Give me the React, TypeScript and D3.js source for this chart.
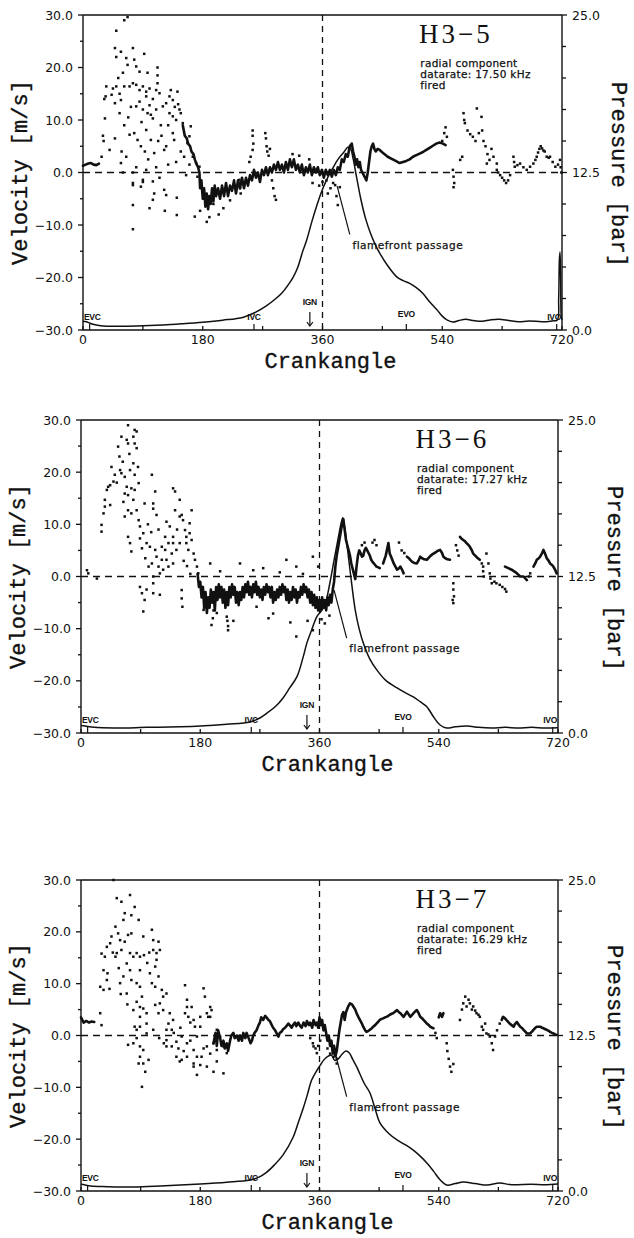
import React from 'react';
import * as d3 from 'd3';

type Pt = [number, number];

// ---- axes ----
const crankMajor = [0, 180, 360, 540, 720];
const crankMinor = [90, 270, 450, 630];
const velocityMajor = [-30, -20, -10, 0, 10, 20, 30];
const velocityMinor = [-25, -15, -5, 5, 15, 25];
const pressureMajor = [0, 12.5, 25];
const pressureMinor = [2.5, 5, 7.5, 10, 15, 17.5, 20, 22.5];

// ---- run info ----
const runLabels = ['H3−5', 'H3−6', 'H3−7'];
const dataRates = ['17.50', '17.27', '16.29'];

// valve timing and ignition [deg crank angle]
const valveEventNames = ['EVC', 'IVC', 'EVO', 'IVO'];
const valveEventCranks = [10, 257, 486, 712];
const ignitionCrank = 341;

// ================= H3-5 =================
const pressureH35: Pt[] = [
  [0, 0.7], [5, 0.65], [10, 0.55], [15, 0.45], [20, 0.4], [30, 0.32], [50, 0.3], [80, 0.32], [120, 0.4],
  [150, 0.5], [180, 0.62], [210, 0.78], [240, 1.0], [257, 1.35], [275, 1.9], [290, 2.5], [300, 3.0],
  [310, 3.7], [316, 4.2], [323, 5.0], [330, 6.2], [336, 7.1], [344, 8.6], [351, 9.8], [358, 10.9],
  [366, 11.9], [375, 12.8], [384, 13.6], [392, 14.1], [398, 14.5], [402, 14.4], [406, 13.6], [411, 12.2],
  [418, 10.3], [425, 8.8], [432, 7.7], [440, 6.7], [446, 6.1], [458, 5.1], [472, 4.2], [482, 3.9],
  [491, 3.7], [500, 3.4], [511, 2.9], [520, 2.3], [532, 1.6], [540, 1.1], [547, 0.8], [556, 0.63],
  [565, 0.75], [575, 0.85], [587, 0.75], [600, 0.7], [612, 0.8], [625, 0.85], [640, 0.75], [655, 0.65],
  [670, 0.72], [690, 0.65], [705, 0.72], [713, 0.8], [715, 2.5], [716, 5.5], [717, 6.2], [718, 4],
  [719, 1], [720, 0.8],
];

const traceH35: Pt[][] = [
  [[0, 1.3], [4, 1.5], [8, 1.7], [12, 1.8], [16, 1.5], [20, 1.4], [24, 1.7]],
  [
    [150, 9], [153, 7], [156, 6.5], [158, 5.5], [161, 5], [163, 4], [166, 3.5], [168, 2.5], [171, 1.5],
    [173, 1], [175, 0], [176, -3], [178, -1.5], [180, -5], [182, -3], [184, -6.5], [186, -4], [188, -7],
    [190, -4.5], [192, -6], [194, -3], [196, -5.5], [198, -2.5], [200, -4.5], [203, -3], [206, -5],
    [209, -2.5], [212, -4.5], [215, -2], [218, -4.5], [221, -2.5], [224, -3.5], [227, -1.5], [230, -4],
    [233, -1.5], [236, -3], [239, -1], [242, -3], [245, -1], [248, -2.5], [251, -0.5], [254, -1.5],
    [257, 0.5], [260, -1], [263, 0], [266, -1.8], [269, 0.5], [272, -0.5], [275, 1], [278, -0.5],
    [281, 1], [284, 0], [287, 1.5], [290, 0.5], [293, 2], [296, 0.5], [299, 1.5], [302, 0], [305, 2],
    [308, 0.5], [311, 2.5], [314, 1], [317, 2.5], [320, 0.5], [323, 1.5], [326, 0], [329, 1.5],
    [332, -0.5], [335, 1], [338, 0], [341, 1.5], [344, -0.5], [347, 1], [350, 0], [353, 1], [356, -0.5],
    [359, 0.5], [362, -1], [365, 0.5], [368, -0.5], [371, 0.5], [374, -0.8], [377, 0.5], [380, -0.5],
    [383, 1], [386, 0.5], [389, 2.5], [392, 2], [395, 3.5], [398, 3], [401, 5], [404, 5.5], [406, 4],
    [408, 3], [410, 1.5], [412, 2.5], [414, 1], [416, 2], [418, 0.5], [420, 0], [422, -0.5], [424, -1],
    [426, -1.5], [428, 0], [430, 2], [432, 4], [434, 5], [436, 5.5], [438, 4.5], [440, 4], [443, 4.5],
    [446, 4.3], [452, 3.6], [458, 3], [464, 2.6], [470, 2.2], [476, 1.8], [481, 2], [486, 2.2],
    [491, 2.5], [496, 3], [501, 3.3], [506, 3.6], [511, 3.9], [516, 4.3], [521, 4.7], [526, 5.1],
    [531, 5.5], [536, 5.7], [541, 5.5], [545, 5.2],
  ],
];

const dotsH35: Pt[] = [
  [28, 3], [30, 7], [31, 6], [33, 10.3], [32, 14], [34, 14.5], [35, 16.4], [40, 4.3], [48, 6.5],
  [50, 27], [62, 29], [67, 29.6], [48, 23.7], [50, 22], [57, 23], [65, 21.8], [67, 20.5], [75, 23.7],
  [77, 21.5], [92, 22.6], [80, 20.2], [85, 19.2], [97, 19], [112, 17], [112, 18.5], [112, 20],
  [50, 16.4], [55, 15], [43, 14.8], [48, 13.2], [57, 13.8], [62, 16.4], [70, 16.4], [75, 17],
  [80, 16.7], [85, 15.7], [90, 16.4], [95, 15.4], [100, 16], [110, 15.7], [115, 15.1], [95, 14.5],
  [85, 13.5], [80, 12.6], [90, 12], [97, 11.3], [102, 11], [105, 10.3], [110, 12], [120, 12.6],
  [125, 13.2], [130, 14.5], [135, 13.8], [132, 15.7], [142, 15.4], [145, 12], [130, 11.3], [135, 10.7],
  [140, 10], [147, 11.3], [150, 9.4], [117, 9], [55, 11.3], [62, 9], [70, 7.2], [77, 7.5], [82, 6.2],
  [87, 5], [95, 8.1], [102, 6.2], [107, 3.7], [122, 4.3], [125, 5], [135, 7.5], [137, 6.2], [147, 4],
  [152, 3], [157, 5.6], [160, 6.9], [162, 8.8], [165, 3], [170, 1.8], [175, 1.1], [172, -0.8],
  [57, 1.8], [60, 0], [75, 0], [75, -2], [90, -1.4], [87, -2.7], [105, -1.7], [107, -4], [122, -3.3],
  [125, -4.3], [75, -2.4], [75, -6.2], [75, -10.8], [90, -1.8], [105, -5.2], [100, -6.8], [123, -7.3],
  [141, -4.8], [141, -8.1], [168, -8.4], [186, -9.4], [138, 12.5], [143, 13], [128, 9], [118, 7],
  [113, 6], [98, 2.5], [93, 4], [68, 10.5], [72, 12.5], [60, 19], [53, 18], [45, 16], [105, 14],
  [100, 12.8], [88, 9.6], [58, 4], [65, 3], [80, 1], [95, 0.5], [110, 1], [115, -1], [128, 1.5],
  [140, 2], [155, -0.5], [160, 1.5],
  [176, -7.3], [196, -6], [211, -6.8], [221, -5.3], [190, -8.5], [204, -8], [255, 8], [255, 7],
  [256, 5.5], [255, 4.3], [250, 2], [252, 3], [274, 7.5], [275, 6.5], [276, 5], [277, 4], [279, 3.2],
  [281, 4.5], [284, -1.5], [286, -3], [288, -4.5], [290, -5.2], [235, -1.4], [236, -3], [237, -4],
  [315, 3.5], [325, 3.2], [340, 2.5], [345, -2], [355, -2.5], [366, -1.5], [376, -2], [386, -2.8],
  [368, -4], [381, -4.5], [379, -2.4], [383, -6.2], [372, -3], [360, -1.8],
  [540, 6], [543, 7.5], [545, 8.6], [547, 6.8], [556, 0.5], [557, -0.8], [558, -2], [557, -2.8],
  [567, 2.4], [570, 3], [572, 11.3], [573, 10], [574, 9.4], [578, 8], [582, 7.3], [586, 6.8], [590, 6],
  [592, 12.2], [595, 7.5], [599, 10.6], [600, 8], [602, 6], [605, 5], [608, 3.5], [611, 2.4],
  [614, 4.5], [617, 3], [607, 1.7], [622, 1.7], [622, 0.5], [624, 0], [627, -0.5], [630, -1],
  [633, -1.5], [636, -2], [639, -1.5], [642, -0.5], [647, 3], [648, 2], [649, 1.1], [653, 1.4],
  [657, 1.7], [662, 1], [667, 0.5], [672, 1.1], [677, 1.7], [680, 2.4], [682, 3], [684, 3.8],
  [686, 4.5], [688, 5], [690, 4.6], [692, 4.2], [694, 4], [697, 3], [700, 2.8], [702, 3], [706, 2],
  [710, 1.1], [714, 1.5], [717, 2.4], [718, 1], [719, 0],
];

// ================= H3-6 =================
const pressureH36: Pt[] = [
  [0, 0.6], [6, 0.56], [20, 0.45], [50, 0.4], [100, 0.45], [150, 0.5], [180, 0.56], [220, 0.7],
  [255, 0.88], [270, 1.2], [281, 1.6], [295, 2.2], [305, 2.8], [315, 3.6], [326, 4.5], [335, 6.0],
  [341, 7.2], [348, 8.2], [356, 9.3], [362, 9.7], [368, 10.2], [375, 11.8], [382, 13.8], [388, 15.5],
  [392, 16.6], [395, 17.2], [398, 16.4], [402, 14.8], [407, 12.6], [414, 9.8], [420, 8.3], [426, 7.2],
  [436, 5.9], [447, 5.0], [460, 4.2], [477, 3.6], [490, 3.2], [501, 2.9], [512, 2.5], [522, 2.1],
  [532, 1.3], [542, 0.64], [552, 0.4], [565, 0.5], [583, 0.56], [600, 0.45], [620, 0.4], [640, 0.45],
  [660, 0.4], [680, 0.45], [700, 0.4], [720, 0.42],
];

const traceH36: Pt[][] = [
  [
    [176, 0.5], [178, -2], [180, -1], [182, -4], [184, -2], [186, -6], [188, -3], [190, -7], [192, -4],
    [194, -6], [196, -2.5], [198, -5], [200, -3], [202, -6.5], [204, -2], [206, -4.5], [208, -1.5],
    [210, -4], [212, -2], [214, -5], [216, -2.5], [218, -6], [220, -3], [222, -5.5], [224, -2],
    [226, -4], [228, -1.5], [230, -3.5], [232, -2], [234, -5], [236, -3], [238, -5.5], [240, -3],
    [242, -4.5], [244, -2], [246, -4], [248, -1.5], [250, -3], [252, -1], [254, -3.5], [256, -2],
    [258, -4], [260, -1.5], [262, -3], [264, -1], [266, -3.5], [268, -2], [270, -4], [272, -2.5],
    [274, -4.5], [276, -2], [278, -3.5], [280, -1.5], [282, -3], [284, -2], [286, -4], [288, -2],
    [290, -5], [292, -3], [294, -4.5], [296, -2.5], [298, -4], [300, -2], [302, -3.5], [304, -1.5],
    [306, -3], [308, -2], [310, -4.5], [312, -2.5], [314, -5], [316, -3], [318, -4.5], [320, -2],
    [322, -4], [324, -2.5], [326, -5], [328, -3], [330, -4], [332, -2], [334, -3.5], [336, -1.5],
    [338, -3], [340, -2], [342, -4], [344, -2.5], [346, -5], [348, -3], [350, -5.5], [352, -3.5],
    [354, -6], [356, -4], [358, -6.5], [360, -4.5], [362, -6.5], [364, -4], [366, -6], [368, -4.5],
    [370, -6.5], [372, -4], [374, -5.5], [376, -3.5], [378, -5], [380, -2.5], [382, -1], [384, 2],
    [386, 4], [388, 5.5], [390, 7], [392, 8.5], [394, 10], [396, 11], [398, 9], [400, 7], [402, 6],
    [404, 5], [406, 4], [408, 2.5], [410, 1.5], [412, 0.5], [414, -0.5], [416, 2], [418, 4], [420, 5],
    [422, 4.5], [424, 3.8], [426, 4], [428, 5], [430, 5.5], [432, 5], [434, 4.5], [436, 4], [438, 3.2],
    [440, 2.8], [442, 2.5], [444, 2.2], [446, 1.9], [448, 1.8], [451, 1.6],
  ],
  [[456, 2.5], [460, 4], [464, 6.4], [466, 4.4], [469, 3.5], [472, 2.5], [475, 1.8], [477, 1.3],
    [480, 1.6], [482, 1.9], [485, 1.2], [487, 0.6]],
  [[492, 3.8], [495, 3.5], [497, 3.2], [500, 2.8], [503, 2.6], [507, 2.5], [510, 3.2], [512, 3.8],
    [515, 3.5], [518, 3.3], [522, 3.2], [525, 3.6], [528, 4], [532, 4.4], [535, 4.6], [538, 4.9],
    [542, 5.1], [545, 4.5], [547, 3.8], [550, 3.5], [553, 3.3], [557, 3.2]],
  [[572, 7.6], [574, 7.3], [577, 7], [580, 6.7], [582, 6.4], [585, 6], [587, 5.7], [590, 5],
    [592, 4.4], [595, 4], [598, 3.6], [602, 3.2]],
  [[640, 1.9], [645, 1.6], [650, 1.3], [655, 0.9], [658, 0.6], [663, 0], [668, 0], [673, -0.7]],
  [[683, 1.9], [686, 2.6], [688, 3.2], [691, 3.5], [693, 3.8], [696, 4.5], [698, 5.1], [701, 4.2],
    [703, 3.5], [706, 3], [708, 2.5], [711, 2.2], [713, 1.9], [716, 1.2], [718, 0.6]],
];

const dotsH36: Pt[] = [
  [9, 1.2], [11, 0.6], [24, -0.4], [31, 9.9], [31, 8.6], [34, 12.1], [36, 14.7], [36, 13.4], [41, 17.2],
  [39, 16.6], [44, 17.5], [44, 13.7], [49, 18.2], [51, 19.5], [59, 20.4], [56, 24.9], [61, 26.8],
  [69, 26.2], [71, 25.5], [79, 26.8], [81, 25.5], [84, 27.8], [81, 28.1], [71, 29], [84, 24.6],
  [61, 19.8], [66, 19.1], [69, 17.2], [66, 15.9], [71, 15.6], [76, 16.9], [81, 16.6], [79, 14.7],
  [64, 14.3], [66, 11.5], [71, 12.7], [76, 12.1], [84, 12.7], [87, 10.8], [89, 9.6], [79, 21.7],
  [81, 19.5], [87, 17.9], [74, 20.4], [74, 6.4], [71, 7.6], [76, 4.8], [89, 7.3], [92, 5.4], [94, 8.3],
  [97, 3.5], [99, 6.4], [104, 5.7], [102, 1.9], [107, 2.5], [112, 5.1], [114, 3.8], [119, 0.6],
  [117, 1.9], [109, 0], [107, 19.5], [109, 14], [109, 13], [112, 16.3], [114, 11.8], [122, 5.7],
  [122, 3.2], [127, 7.6], [127, 5.1], [132, 6.4], [134, 9.6], [137, 4.4], [139, 7.6], [139, 6.4],
  [142, 12.7], [139, 16.9], [142, 16.3], [149, 14.7], [149, 11.5], [152, 11.8], [154, 10.8], [157, 8.9],
  [159, 7.6], [159, 6.4], [162, 5.1], [167, 12.7], [164, 10.2], [164, 8.3], [167, 7], [170, 4.4],
  [172, 3.2], [175, 1.9], [177, 0.6], [149, 6.4], [144, 5.1], [139, 2.5], [132, 1.9], [129, 3.2],
  [124, 1.3], [89, -2], [92, -3.2], [96, -4.5], [99, -2.5], [109, -1.3], [109, -3.2], [119, -3.5],
  [152, -2.6], [152, -4.2], [153, -5.8], [94, -6.7], [46, 21], [54, 18], [58, 23], [63, 22], [73, 23.5],
  [86, 21], [96, 14], [101, 10], [106, 8.5], [117, 9], [129, 10.5], [145, 9], [155, 3], [160, 2],
  [165, 0.5],
  [197, -9.3], [222, -10.3], [325, -11.5], [350, -10.3], [290, -7.1], [265, -5.8], [185, -6.4],
  [205, -7], [220, -7.7], [230, -8.5], [195, 2.5], [240, 2.5], [275, 1.6], [310, 3.2], [325, 1.9],
  [350, 3.8], [358, 1.9], [210, 1], [260, 1.2], [300, 0.8], [335, 0.5], [283, -8], [316, -8.8],
  [342, -8.5], [363, -8.2], [368, -9], [375, -7.5], [199, -8], [200, -6.5], [221, -8.5], [222, -9.5],
  [562, -1.3], [562, -2.5], [563, -3.8], [562, -5.1], [561, -4.5], [607, 1.9], [607, 1], [608, 0],
  [612, 4.4], [615, 2.5], [617, 0.6], [618, -0.4], [620, -1.3], [624, -1], [627, -1.3], [632, -1.6],
  [636, -2], [640, -2.4], [642, -2.9], [678, 0.6], [676, 0], [605, 2.5], [566, 6], [568, 5], [570, 4],
  [440, 6.5], [443, 7], [446, 6], [424, 6], [428, 6.5], [480, 6.5], [484, 5], [488, 4.5],
];

// ================= H3-7 =================
const pressureH37: Pt[] = [
  [0, 0.55], [5, 0.5], [15, 0.4], [40, 0.35], [79, 0.32], [120, 0.4], [180, 0.56], [220, 0.7],
  [255, 0.88], [268, 1.1], [280, 1.5], [292, 2.1], [305, 2.9], [320, 4.3], [328, 5.5], [336, 6.75],
  [342, 7.8], [348, 8.9], [355, 9.6], [361, 10.1], [366, 10.5], [372, 10.8], [378, 10.9], [383, 10.5],
  [388, 10.6], [394, 11.0], [400, 11.25], [405, 11.1], [410, 10.6], [416, 10.0], [421, 9.4], [428, 8.6],
  [436, 7.9], [444, 6.6], [451, 5.5], [465, 4.6], [477, 4.1], [490, 3.7], [501, 3.3], [512, 2.8],
  [522, 2.25], [532, 1.6], [542, 0.9], [552, 0.48], [565, 0.6], [577, 0.72], [595, 0.6], [613, 0.48],
  [632, 0.64], [650, 0.5], [680, 0.55], [700, 0.5], [720, 0.56],
];

const traceH37: Pt[][] = [
  [[0, 3.5], [4, 2.5], [8, 2.8], [12, 2.5], [16, 2.7], [20, 2.6]],
  [
    [200, -1.5], [203, 0.5], [205, -2], [207, 1], [210, -0.5], [212, -2], [215, -1], [217, -2.5],
    [220, -1.5], [222, -3], [225, -1], [227, 0], [230, 0.5], [232, -0.5], [235, 0], [238, -1], [240, 0],
    [243, -1], [245, 0.5], [248, -0.5], [250, 0.5], [253, -0.5], [256, -1.5], [258, -1], [260, 0],
    [262, 0.5], [265, 1], [268, 2], [270, 2.5], [272, 3.5], [275, 3], [278, 3.8], [280, 3.5], [283, 3],
    [285, 2.8], [288, 2], [290, 1.5], [293, 1], [295, 0.5], [298, -0.2], [300, 0.5], [303, 0.8],
    [305, 1.2], [308, 1.5], [310, 1.8], [313, 2.3], [315, 2], [318, 1.5], [320, 2], [323, 2.5],
    [325, 1.8], [328, 2.5], [330, 2], [333, 1.5], [336, 2.5], [339, 1.8], [341, 2.8], [344, 2],
    [346, 2.5], [349, 1.5], [351, 3], [354, 2], [356, 2.5], [358, 1.5], [360, 3.5], [362, 2], [364, 3],
    [366, 1], [368, 2], [370, 0.5], [372, -1], [374, 0], [376, -2], [378, -1], [380, -3.5], [382, -2],
    [384, -4], [386, -3], [388, -1], [390, 1], [392, 2.5], [394, 4], [396, 4.5], [398, 3], [400, 4.5],
    [403, 5.5], [406, 6.2], [409, 6], [411, 5.6], [414, 5], [416, 4.3], [419, 3.5], [421, 3], [424, 2.3],
    [426, 1.7], [429, 1], [431, 0.7], [434, 0.9], [436, 1.1], [439, 1.4], [441, 1.7], [444, 2],
    [446, 2.3], [449, 2.7], [451, 3], [454, 3.2], [456, 3.3], [459, 3.5], [461, 3.6], [464, 3.8],
    [466, 4], [469, 4.2], [471, 4.3], [474, 4.6], [477, 4.9], [480, 4.5], [482, 4.3], [485, 3.9],
    [487, 3.6], [490, 4.2], [492, 4.6], [495, 4], [497, 3.6], [500, 4], [502, 4.3], [505, 4.7],
    [507, 4.9], [510, 4.2], [512, 3.6], [515, 3.3], [517, 3], [520, 2.6], [522, 2.3], [525, 2],
    [527, 1.7], [530, 1.5], [532, 1.4],
  ],
  [[540, 3.5], [542, 4.3], [545, 3.6], [547, 4.3]],
  [
    [635, 3], [637, 3.6], [640, 3.3], [642, 3], [645, 2.6], [647, 2.3], [650, 2], [653, 1.7], [655, 2.2],
    [658, 2.6], [660, 2.2], [663, 1.7], [666, 1.4], [668, 1.1], [671, 0.7], [673, 0.4], [676, 0.4],
    [678, 0.4], [681, 0.8], [683, 1.1], [686, 1.5], [688, 1.7], [691, 1.7], [693, 1.7], [696, 1.5],
    [698, 1.4], [701, 1.2], [703, 1.1], [706, 0.9], [708, 0.7], [711, 0.5], [713, 0.4], [716, 0.2],
    [718, 0.1],
  ],
];

const dotsH37: Pt[] = [
  [29, 4.3], [31, 2.0], [29, 9.4], [34, 8.8], [34, 12.6], [39, 10.7], [31, 15.8], [36, 15.2], [39, 17.1],
  [44, 17.8], [46, 19.1], [49, 30], [54, 26.5], [61, 25.8], [66, 23.6], [64, 22.3], [74, 27.1],
  [76, 23.2], [81, 24.8], [87, 22.3], [94, 19.1], [52, 21], [56, 19.7], [59, 18.4], [61, 16.5],
  [54, 15.9], [52, 15.2], [66, 18.1], [71, 19.4], [76, 19.7], [74, 15.9], [79, 15.2], [84, 15.9],
  [89, 15.2], [69, 13.9], [74, 12.6], [64, 11.4], [59, 10.1], [69, 8.1], [76, 10.7], [84, 10.1],
  [89, 12.6], [89, 9.4], [92, 7.5], [84, 6.5], [79, 4.9], [89, 5.5], [89, 3.6], [94, 5.2], [99, 4.3],
  [81, 1.7], [84, 1.1], [89, 1.7], [99, 2.3], [109, 1.1], [99, 0.4], [107, 20.4], [109, 18.4],
  [109, 16.5], [114, 15.9], [114, 14.6], [117, 18.1], [119, 16.5], [112, 13.3], [107, 10.1], [112, 9.4],
  [117, 11.4], [122, 8.8], [124, 7.5], [129, 8.1], [119, 6.2], [124, 4.9], [117, 4.3], [112, 5.9],
  [129, 1.1], [132, 2.3], [134, 4.3], [137, 1.1], [139, 3.0], [157, 9.7], [160, 6.9], [160, 5.5],
  [157, 4.3], [162, 3.6], [167, 5.5], [170, 3.0], [172, 1.7], [185, 9.1], [187, 7.5], [190, 4.3],
  [192, 3.6], [195, 5.5], [195, 3.6], [197, 4.9], [180, 3.6], [180, 1.7], [71, -1.8], [79, -1.5],
  [84, -0.5], [89, -2.1], [89, -4.1], [94, -2.8], [94, -5.4], [102, -4.7], [129, -0.9], [129, -2.1],
  [137, -2.1], [144, -1.2], [144, -4.1], [152, -0.2], [152, -4.7], [160, -1.5], [160, -4.1], [170, -2.8],
  [170, -6], [175, -0.2], [175, -4.1], [182, -4.1], [190, -2.1], [190, -6], [200, -1.5], [205, 1.1],
  [205, -2.8], [210, -0.2], [215, -2.1], [220, -3.4], [87, -5.4], [92, -9.9], [97, -7], [149, -5],
  [170, -5.4], [175, -7.6], [180, -5.7], [200, -7], [215, -7.3], [205, -5], [147, -2.5], [155, -3],
  [165, -1], [185, -2.5], [195, -3.5], [125, -1.5], [140, 0.5], [150, 1.5], [165, 2.5], [118, -0.5],
  [60, 8], [70, 6], [40, 12], [48, 16], [57, 13], [43, 9], [100, 14], [103, 16], [95, 15.5], [104, 12],
  [346, -0.5], [350, -1.5], [354, -2.5], [358, -2], [361, -1], [351, -2.1], [356, -3.4], [381, -4.1],
  [386, -4.5], [386, -5.4], [376, -3.5], [372, -2.5],
  [535, 0.5], [537, -0.5], [552, -1.5], [553, -3], [555, -4.5], [557, -6], [559, -7], [562, -5.5],
  [572, 3], [575, 5], [577, 6.2], [580, 7.5], [582, 5.6], [585, 6.9], [587, 6.2], [590, 5], [592, 5.6],
  [595, 4.8], [597, 4.3], [600, 4], [602, 3.6], [605, 1.7], [607, 1.1], [610, 2.3], [612, 0.4],
  [615, 0.2], [617, -0.2], [620, -1.5], [622, -2.8], [625, -0.2], [628, 1], [632, 2.3],
];

// ---------------------------------------------------------------
type Frame = { left: number; right: number; top: number; bottom: number };

const fmtVel = (d: number) => d3.format('.1f')(d).replace('-', '−');
const fmtP = (d: number) => d3.format('.1f')(d);

function Panel(props: {
  frame: Frame;
  label: string;
  rate: string;
  pressure: Pt[];
  traces: Pt[][];
  dots: Pt[];
}) {
  const { frame, label, rate, pressure, traces, dots } = props;
  const { left, right, top, bottom } = frame;
  const x = d3.scaleLinear().domain([0, 720]).range([left, right]);
  const v = d3.scaleLinear().domain([-30, 30]).range([bottom, top]);
  const p = d3.scaleLinear().domain([0, 25]).range([bottom, top]);

  const pLine = d3
    .line<Pt>()
    .x((d) => x(d[0]))
    .y((d) => p(d[1]))
    .curve(d3.curveCatmullRom.alpha(0.5));
  const vLine = d3
    .line<Pt>()
    .x((d) => x(d[0]))
    .y((d) => v(d[1]));

  const tickFont = { fontFamily: 'DejaVu Sans', fontSize: 12.5 } as const;
  const smallFont = { fontFamily: 'Liberation Sans', fontSize: 8.5, fontWeight: 700 } as const;
  const ink = '#111';
  const midY = (top + bottom) / 2;

  return (
    <g>
      {/* frame */}
      <line x1={left} x2={right} y1={top} y2={top} stroke={ink} strokeWidth={1.4} />
      <line x1={left} x2={right} y1={bottom} y2={bottom} stroke={ink} strokeWidth={1.4} />
      <line x1={left} x2={left} y1={top} y2={bottom} stroke={ink} strokeWidth={1.4} />
      <line x1={right} x2={right} y1={top} y2={bottom} stroke={ink} strokeWidth={1.4} />

      {/* velocity axis */}
      {velocityMajor.map((t) => (
        <g key={'vm' + t}>
          <line x1={left - 5} x2={left} y1={v(t)} y2={v(t)} stroke={ink} strokeWidth={1.3} />
          <text x={left - 10} y={v(t)} dy="0.36em" textAnchor="end" fill={ink} {...tickFont}>
            {fmtVel(t)}
          </text>
        </g>
      ))}
      {velocityMinor.map((t) => (
        <line key={'vn' + t} x1={left - 3} x2={left} y1={v(t)} y2={v(t)} stroke={ink} strokeWidth={1.3} />
      ))}

      {/* pressure axis */}
      {pressureMajor.map((t) => (
        <g key={'pm' + t}>
          <line x1={right} x2={right + 5} y1={p(t)} y2={p(t)} stroke={ink} strokeWidth={1.3} />
          <text x={right + 10} y={p(t)} dy="0.36em" textAnchor="start" fill={ink} {...tickFont}>
            {fmtP(t)}
          </text>
        </g>
      ))}
      {pressureMinor.map((t) => (
        <line key={'pn' + t} x1={right} x2={right + 4} y1={p(t)} y2={p(t)} stroke={ink} strokeWidth={1.3} />
      ))}

      {/* crank axis */}
      {crankMajor.concat(crankMinor).map((t) => (
        <line key={'c' + t} x1={x(t)} x2={x(t)} y1={bottom} y2={bottom - 4} stroke={ink} strokeWidth={1.3} />
      ))}
      {crankMajor.map((t) => (
        <text key={'cl' + t} x={x(t)} y={bottom + 14} textAnchor="middle" fill={ink} {...tickFont}>
          {t}
        </text>
      ))}

      {/* reference lines: zero velocity and TDC */}
      <line x1={left} x2={right} y1={v(0)} y2={v(0)} stroke={ink} strokeWidth={1.3} strokeDasharray="7,5" />
      <line x1={x(360)} x2={x(360)} y1={top} y2={bottom} stroke={ink} strokeWidth={1.3} strokeDasharray="6,5" />

      {/* velocity samples */}
      {traces.map((seg, i) => (
        <path
          key={'tr' + i}
          d={vLine(seg) || ''}
          fill="none"
          stroke={ink}
          strokeWidth={2.6}
          strokeLinejoin="round"
          strokeLinecap="round"
        />
      ))}
      {dots.map((d, i) => (
        <rect key={'d' + i} x={x(d[0]) - 1.25} y={v(d[1]) - 1.25} width={2.5} height={2.5} fill={ink} />
      ))}

      {/* cylinder pressure */}
      <path d={pLine(pressure) || ''} fill="none" stroke={ink} strokeWidth={1.5} />

      {/* valve timing marks */}
      {valveEventNames.map((name, i) => {
        const c = valveEventCranks[i];
        const anchor = name === 'EVC' ? 'start' : name === 'IVO' ? 'end' : 'middle';
        const tx = name === 'EVC' ? x(0) + 1 : name === 'IVO' ? x(720) - 1 : x(c);
        const ty = name === 'EVO' ? bottom - 13 : bottom - 10;
        return (
          <g key={name}>
            <line x1={x(c)} x2={x(c)} y1={bottom} y2={bottom - 6} stroke={ink} strokeWidth={1.2} />
            <text x={tx} y={ty} textAnchor={anchor} fill={ink} {...smallFont} letterSpacing={-0.3}>
              {name}
            </text>
          </g>
        );
      })}

      {/* ignition */}
      <text x={x(ignitionCrank)} y={bottom - 25} textAnchor="middle" fill={ink} {...smallFont} letterSpacing={-0.3}>
        IGN
      </text>
      <line x1={x(ignitionCrank)} x2={x(ignitionCrank)} y1={bottom - 18} y2={bottom - 4} stroke={ink} strokeWidth={1.2} />
      <path
        d={`M${x(ignitionCrank) - 3},${bottom - 8} L${x(ignitionCrank)},${bottom - 4} L${x(ignitionCrank) + 3},${bottom - 8}`}
        fill="none"
        stroke={ink}
        strokeWidth={1.2}
      />

      {/* flame front annotation */}
      <line x1={x(401)} y1={v(-11.8)} x2={x(382)} y2={v(-2.6)} stroke={ink} strokeWidth={1.2} />
      <text
        x={x(405)}
        y={v(-14.5)}
        fill={ink}
        fontFamily="DejaVu Sans"
        fontSize={10.5}
        letterSpacing={0.5}
        stroke={ink}
        strokeWidth={0.25}
      >
        flamefront passage
      </text>

      {/* run label */}
      <text x={x(505)} y={top + 28} fill={ink} fontFamily="Liberation Serif" fontSize={27} letterSpacing={3}>
        {label}
      </text>
      <g fill={ink} fontFamily="DejaVu Sans" fontSize={10.5} letterSpacing={0.3} stroke={ink} strokeWidth={0.25}>
        <text x={x(507)} y={top + 52}>radial component</text>
        <text x={x(507)} y={top + 63}>{`datarate: ${rate} kHz`}</text>
        <text x={x(507)} y={top + 74}>fired</text>
      </g>

      {/* axis titles */}
      <text
        transform={`translate(${left - 56},${midY}) rotate(-90)`}
        textAnchor="middle"
        fill={ink}
        fontFamily="Liberation Mono"
        fontSize={22}
        stroke={ink}
        strokeWidth={0.35}
      >
        Velocity [m/s]
      </text>
      <text
        transform={`translate(${right + 50},${midY + 2}) rotate(90)`}
        textAnchor="middle"
        fill={ink}
        fontFamily="Liberation Mono"
        fontSize={22}
        stroke={ink}
        strokeWidth={0.35}
      >
        Pressure [bar]
      </text>
      <text
        x={x(372)}
        y={bottom + 38}
        textAnchor="middle"
        fill={ink}
        fontFamily="Liberation Mono"
        fontSize={22}
        stroke={ink}
        strokeWidth={0.35}
      >
        Crankangle
      </text>
    </g>
  );
}

export default function App() {
  const frames: Frame[] = [
    { left: 83, right: 562, top: 15, bottom: 330 },
    { left: 81, right: 558, top: 420, bottom: 733 },
    { left: 81, right: 558, top: 880, bottom: 1191 },
  ];
  const pressures = [pressureH35, pressureH36, pressureH37];
  const traces = [traceH35, traceH36, traceH37];
  const dots = [dotsH35, dotsH36, dotsH37];
  return (
    <svg
      width={634}
      height={1238}
      viewBox="0 0 634 1238"
      style={{ position: 'absolute', left: 0, top: 0, background: '#fff' }}
    >
      <rect x={0} y={0} width={634} height={1238} fill="#fff" />
      {frames.map((f, i) => (
        <Panel
          key={i}
          frame={f}
          label={runLabels[i]}
          rate={dataRates[i]}
          pressure={pressures[i]}
          traces={traces[i]}
          dots={dots[i]}
        />
      ))}
    </svg>
  );
}
